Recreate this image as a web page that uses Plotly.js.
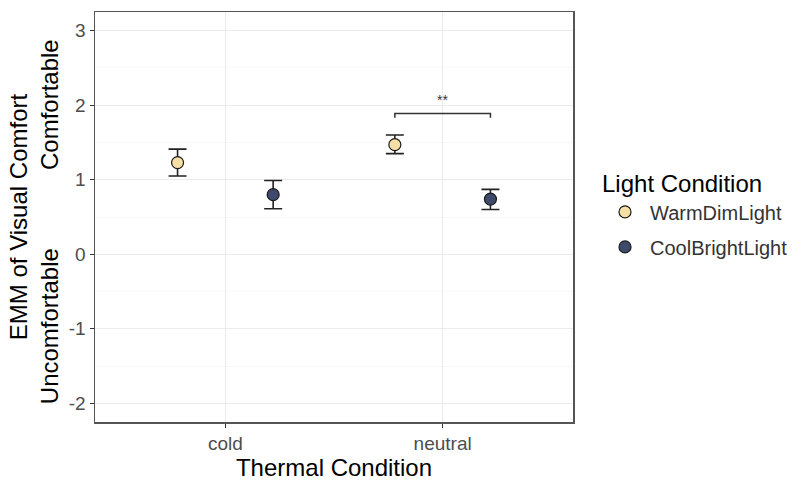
<!DOCTYPE html>
<html>
<head>
<meta charset="utf-8">
<script src="https://cdn.plot.ly/plotly-3.0.1.min.js"></script>
<style>html,body{margin:0;padding:0;background:#fff;}#chart{width:802px;height:484px;}</style>
</head>
<body>
<div id="chart"></div>
<script>
// ---- data ----
const categories = ['cold', 'neutral'];
const lightConditions = ['WarmDimLight', 'CoolBrightLight'];
const warmEmm = [1.23, 1.47];
const warmLower = [1.05, 1.35];
const warmUpper = [1.41, 1.60];
const coolEmm = [0.80, 0.74];
const coolLower = [0.61, 0.60];
const coolUpper = [0.99, 0.87];
const yTickVals = [-2, -1, 0, 1, 2, 3];
const sigLabel = '**';
const sigCategory = 'neutral';
const sigBracketY = 1.89;
const sigBracketDrop = 0.06;
const sigLabelY = 2.07;

// ---- style ----
const dodge = 0.22;
const warmFill = '#F5DFA4';
const coolFill = '#3E4A6B';
const outline = '#1a1a1a';
const FONT = 'Liberation Sans, Arial, sans-serif';

const pos = (i, off) => i + 1 + off;
const xWarm = categories.map((c, i) => pos(i, -dodge));
const xCool = categories.map((c, i) => pos(i, dodge));

function trace(name, x, y, lo, hi, fill, group) {
  return {
    type: 'scatter', mode: 'markers', name: name, x: x, y: y,
    legendgroup: group,
    marker: {color: fill, size: 12, line: {color: outline, width: 1.2}},
    error_y: {
      type: 'data', symmetric: false,
      array: y.map((v, i) => hi[i] - v),
      arrayminus: y.map((v, i) => v - lo[i]),
      color: '#222', thickness: 1.6, width: 9
    },
    hoverinfo: 'x+y'
  };
}

const si = categories.indexOf(sigCategory);
const bracket = {
  type: 'scatter', mode: 'lines', showlegend: false, hoverinfo: 'skip',
  x: [pos(si, -dodge), pos(si, -dodge), pos(si, dodge), pos(si, dodge)],
  y: [sigBracketY - sigBracketDrop, sigBracketY, sigBracketY, sigBracketY - sigBracketDrop],
  line: {color: '#333', width: 1.5}
};

const data = [
  trace(lightConditions[0], xWarm, warmEmm, warmLower, warmUpper, warmFill, 'g1'),
  trace(lightConditions[1], xCool, coolEmm, coolLower, coolUpper, coolFill, 'g2'),
  bracket
];

const minorY = [];
for (let v = -1.5; v <= 2.5; v += 1) minorY.push(v);

const layout = {
  width: 802, height: 484,
  margin: {l: 95, r: 229, t: 12, b: 62, autoexpand: false},
  paper_bgcolor: '#fff', plot_bgcolor: '#fff',
  font: {family: FONT, color: '#000'},
  showlegend: true,
  xaxis: {
    range: [0.4, 2.6], tickvals: categories.map((c, i) => i + 1), ticktext: categories,
    showgrid: true, gridcolor: '#EBEBEB', gridwidth: 1, zeroline: false,
    ticks: 'outside', ticklen: 4, tickcolor: '#333', tickwidth: 1,
    tickfont: {size: 19, color: '#4D4D4D', family: FONT},
    showline: true, mirror: true, linecolor: '#555', linewidth: 1.5,
    title: {text: 'Thermal Condition', font: {size: 24, color: '#000', family: FONT}, standoff: 4},
    automargin: false
  },
  yaxis: {
    range: [-2.25, 3.25], tickvals: yTickVals, ticktext: yTickVals.map(String),
    showgrid: true, gridcolor: '#EBEBEB', gridwidth: 1, zeroline: false,
    ticks: 'outside', ticklen: 4, tickcolor: '#333', tickwidth: 1,
    tickfont: {size: 19, color: '#4D4D4D', family: FONT},
    showline: true, mirror: true, linecolor: '#555', linewidth: 1.5,
    minor: {tickvals: minorY, showgrid: true, gridcolor: '#F3F3F3', gridwidth: 0.6, ticks: ''},
    title: {text: 'EMM of Visual Comfort', font: {size: 24, color: '#000', family: FONT}, standoff: 34},
    automargin: false
  },
  legend: {
    x: 1.0565, xanchor: 'left', y: 0.636, yanchor: 'top',
    title: {text: 'Light Condition', font: {size: 24, color: '#000', family: FONT}},
    font: {size: 20, color: '#333', family: FONT},
    itemwidth: 40,
    tracegroupgap: 6, bgcolor: 'rgba(0,0,0,0)'
  },
  annotations: [
    {text: 'Comfortable', xref: 'paper', yref: 'y', x: -0.095, y: 2.01, xanchor: 'center', yanchor: 'middle',
     textangle: -90, showarrow: false, font: {size: 24, color: '#000', family: FONT}},
    {text: 'Uncomfortable', xref: 'paper', yref: 'y', x: -0.095, y: -0.97, xanchor: 'center', yanchor: 'middle',
     textangle: -90, showarrow: false, font: {size: 24, color: '#000', family: FONT}},
    {text: sigLabel, xref: 'x', yref: 'y', x: si + 1, y: sigLabelY, showarrow: false,
     font: {size: 14, color: '#333', family: FONT}}
  ]
};

Plotly.newPlot('chart', data, layout, {displayModeBar: false, staticPlot: true});
</script>
</body>
</html>
